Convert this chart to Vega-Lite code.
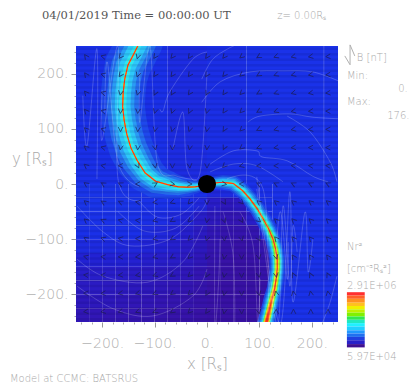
{"$schema":"https://vega.github.io/schema/vega-lite/v6.json","width":262,"height":276,"autosize":{"type":"none"},"padding":{"left":76,"top":46,"right":77,"bottom":70},"background":"white","config":{"view":{"stroke":null},"axis":{"grid":false,"domain":false}},
"datasets":{
"heat":[
{"x":-250,"x2":-75,"y":0,"y2":250,"n":3},{"x":-75,"x2":0,"y":0,"y2":250,"n":2.7},{"x":0,"x2":75,"y":0,"y2":250,"n":2.9},{"x":75,"x2":250,"y":0,"y2":250,"n":3.1},{"x":125,"x2":250,"y":-250,"y2":0,"n":3.1},
{"x":-250,"x2":-225,"y":-25,"y2":0,"n":3.2},{"x":-225,"x2":-200,"y":-25,"y2":0,"n":3.2},{"x":-200,"x2":-175,"y":-25,"y2":0,"n":3.2},{"x":-175,"x2":-150,"y":-25,"y2":0,"n":3.2},{"x":-150,"x2":-125,"y":-25,"y2":0,"n":3.2},{"x":-125,"x2":-100,"y":-25,"y2":0,"n":3.2},{"x":-100,"x2":-75,"y":-25,"y2":0,"n":3.3},{"x":-75,"x2":-50,"y":-25,"y2":0,"n":3.3},{"x":-50,"x2":-25,"y":-25,"y2":0,"n":3.2},{"x":-25,"x2":0,"y":-25,"y2":0,"n":3},{"x":0,"x2":25,"y":-25,"y2":0,"n":2.4},{"x":25,"x2":50,"y":-25,"y2":0,"n":2.6},{"x":50,"x2":75,"y":-25,"y2":0,"n":3},{"x":75,"x2":100,"y":-25,"y2":0,"n":3},{"x":100,"x2":125,"y":-25,"y2":0,"n":3},
{"x":-250,"x2":-225,"y":-50,"y2":-25,"n":3.2},{"x":-225,"x2":-200,"y":-50,"y2":-25,"n":3.2},{"x":-200,"x2":-175,"y":-50,"y2":-25,"n":3.2},{"x":-175,"x2":-150,"y":-50,"y2":-25,"n":3.2},{"x":-150,"x2":-125,"y":-50,"y2":-25,"n":3.2},{"x":-125,"x2":-100,"y":-50,"y2":-25,"n":3.1},{"x":-100,"x2":-75,"y":-50,"y2":-25,"n":3.1},{"x":-75,"x2":-50,"y":-50,"y2":-25,"n":3},{"x":-50,"x2":-25,"y":-50,"y2":-25,"n":2.8},{"x":-25,"x2":0,"y":-50,"y2":-25,"n":2.4},{"x":0,"x2":25,"y":-50,"y2":-25,"n":1.5},{"x":25,"x2":50,"y":-50,"y2":-25,"n":1},{"x":50,"x2":75,"y":-50,"y2":-25,"n":1.2},{"x":75,"x2":100,"y":-50,"y2":-25,"n":3},{"x":100,"x2":125,"y":-50,"y2":-25,"n":3.1},
{"x":-250,"x2":-225,"y":-75,"y2":-50,"n":3.1},{"x":-225,"x2":-200,"y":-75,"y2":-50,"n":3.1},{"x":-200,"x2":-175,"y":-75,"y2":-50,"n":3.1},{"x":-175,"x2":-150,"y":-75,"y2":-50,"n":3.1},{"x":-150,"x2":-125,"y":-75,"y2":-50,"n":3.1},{"x":-125,"x2":-100,"y":-75,"y2":-50,"n":2.9},{"x":-100,"x2":-75,"y":-75,"y2":-50,"n":2.8},{"x":-75,"x2":-50,"y":-75,"y2":-50,"n":2.5},{"x":-50,"x2":-25,"y":-75,"y2":-50,"n":2.1},{"x":-25,"x2":0,"y":-75,"y2":-50,"n":1.6},{"x":0,"x2":25,"y":-75,"y2":-50,"n":1},{"x":25,"x2":50,"y":-75,"y2":-50,"n":0.7},{"x":50,"x2":75,"y":-75,"y2":-50,"n":0.7},{"x":75,"x2":100,"y":-75,"y2":-50,"n":1.5},{"x":100,"x2":125,"y":-75,"y2":-50,"n":3},
{"x":-250,"x2":-225,"y":-100,"y2":-75,"n":3},{"x":-225,"x2":-200,"y":-100,"y2":-75,"n":3},{"x":-200,"x2":-175,"y":-100,"y2":-75,"n":3},{"x":-175,"x2":-150,"y":-100,"y2":-75,"n":3},{"x":-150,"x2":-125,"y":-100,"y2":-75,"n":3},{"x":-125,"x2":-100,"y":-100,"y2":-75,"n":2.6},{"x":-100,"x2":-75,"y":-100,"y2":-75,"n":2.4},{"x":-75,"x2":-50,"y":-100,"y2":-75,"n":2.1},{"x":-50,"x2":-25,"y":-100,"y2":-75,"n":1.7},{"x":-25,"x2":0,"y":-100,"y2":-75,"n":1.3},{"x":0,"x2":25,"y":-100,"y2":-75,"n":0.8},{"x":25,"x2":50,"y":-100,"y2":-75,"n":0.5},{"x":50,"x2":75,"y":-100,"y2":-75,"n":0.5},{"x":75,"x2":100,"y":-100,"y2":-75,"n":0.6},{"x":100,"x2":125,"y":-100,"y2":-75,"n":2},
{"x":-250,"x2":-225,"y":-125,"y2":-100,"n":2.6},{"x":-225,"x2":-200,"y":-125,"y2":-100,"n":2.6},{"x":-200,"x2":-175,"y":-125,"y2":-100,"n":2.6},{"x":-175,"x2":-150,"y":-125,"y2":-100,"n":2.5},{"x":-150,"x2":-125,"y":-125,"y2":-100,"n":2.4},{"x":-125,"x2":-100,"y":-125,"y2":-100,"n":2.2},{"x":-100,"x2":-75,"y":-125,"y2":-100,"n":2},{"x":-75,"x2":-50,"y":-125,"y2":-100,"n":1.8},{"x":-50,"x2":-25,"y":-125,"y2":-100,"n":1.4},{"x":-25,"x2":0,"y":-125,"y2":-100,"n":1.1},{"x":0,"x2":25,"y":-125,"y2":-100,"n":0.6},{"x":25,"x2":50,"y":-125,"y2":-100,"n":0.4},{"x":50,"x2":75,"y":-125,"y2":-100,"n":0.3},{"x":75,"x2":100,"y":-125,"y2":-100,"n":0.4},{"x":100,"x2":125,"y":-125,"y2":-100,"n":0.6},
{"x":-250,"x2":-225,"y":-150,"y2":-125,"n":2},{"x":-225,"x2":-200,"y":-150,"y2":-125,"n":2},{"x":-200,"x2":-175,"y":-150,"y2":-125,"n":2},{"x":-175,"x2":-150,"y":-150,"y2":-125,"n":2},{"x":-150,"x2":-125,"y":-150,"y2":-125,"n":1.9},{"x":-125,"x2":-100,"y":-150,"y2":-125,"n":1.7},{"x":-100,"x2":-75,"y":-150,"y2":-125,"n":1.6},{"x":-75,"x2":-50,"y":-150,"y2":-125,"n":1.5},{"x":-50,"x2":-25,"y":-150,"y2":-125,"n":1.2},{"x":-25,"x2":0,"y":-150,"y2":-125,"n":0.9},{"x":0,"x2":25,"y":-150,"y2":-125,"n":0.5},{"x":25,"x2":50,"y":-150,"y2":-125,"n":0.3},{"x":50,"x2":75,"y":-150,"y2":-125,"n":0.2},{"x":75,"x2":100,"y":-150,"y2":-125,"n":0.3},{"x":100,"x2":125,"y":-150,"y2":-125,"n":0.5},
{"x":-250,"x2":-225,"y":-175,"y2":-150,"n":1.6},{"x":-225,"x2":-200,"y":-175,"y2":-150,"n":1.6},{"x":-200,"x2":-175,"y":-175,"y2":-150,"n":1.6},{"x":-175,"x2":-150,"y":-175,"y2":-150,"n":1.5},{"x":-150,"x2":-125,"y":-175,"y2":-150,"n":1.4},{"x":-125,"x2":-100,"y":-175,"y2":-150,"n":1.3},{"x":-100,"x2":-75,"y":-175,"y2":-150,"n":1.2},{"x":-75,"x2":-50,"y":-175,"y2":-150,"n":1.1},{"x":-50,"x2":-25,"y":-175,"y2":-150,"n":0.9},{"x":-25,"x2":0,"y":-175,"y2":-150,"n":0.7},{"x":0,"x2":25,"y":-175,"y2":-150,"n":0.4},{"x":25,"x2":50,"y":-175,"y2":-150,"n":0.3},{"x":50,"x2":75,"y":-175,"y2":-150,"n":0.2},{"x":75,"x2":100,"y":-175,"y2":-150,"n":0.2},{"x":100,"x2":125,"y":-175,"y2":-150,"n":0.4},
{"x":-250,"x2":-225,"y":-200,"y2":-175,"n":1.3},{"x":-225,"x2":-200,"y":-200,"y2":-175,"n":1.3},{"x":-200,"x2":-175,"y":-200,"y2":-175,"n":1.2},{"x":-175,"x2":-150,"y":-200,"y2":-175,"n":1.2},{"x":-150,"x2":-125,"y":-200,"y2":-175,"n":1.1},{"x":-125,"x2":-100,"y":-200,"y2":-175,"n":1},{"x":-100,"x2":-75,"y":-200,"y2":-175,"n":0.9},{"x":-75,"x2":-50,"y":-200,"y2":-175,"n":0.8},{"x":-50,"x2":-25,"y":-200,"y2":-175,"n":0.7},{"x":-25,"x2":0,"y":-200,"y2":-175,"n":0.5},{"x":0,"x2":25,"y":-200,"y2":-175,"n":0.3},{"x":25,"x2":50,"y":-200,"y2":-175,"n":0.2},{"x":50,"x2":75,"y":-200,"y2":-175,"n":0.2},{"x":75,"x2":100,"y":-200,"y2":-175,"n":0.2},{"x":100,"x2":125,"y":-200,"y2":-175,"n":0.3},
{"x":-250,"x2":-225,"y":-225,"y2":-200,"n":1},{"x":-225,"x2":-200,"y":-225,"y2":-200,"n":1},{"x":-200,"x2":-175,"y":-225,"y2":-200,"n":1},{"x":-175,"x2":-150,"y":-225,"y2":-200,"n":0.9},{"x":-150,"x2":-125,"y":-225,"y2":-200,"n":0.8},{"x":-125,"x2":-100,"y":-225,"y2":-200,"n":0.8},{"x":-100,"x2":-75,"y":-225,"y2":-200,"n":0.7},{"x":-75,"x2":-50,"y":-225,"y2":-200,"n":0.6},{"x":-50,"x2":-25,"y":-225,"y2":-200,"n":0.5},{"x":-25,"x2":0,"y":-225,"y2":-200,"n":0.4},{"x":0,"x2":25,"y":-225,"y2":-200,"n":0.3},{"x":25,"x2":50,"y":-225,"y2":-200,"n":0.2},{"x":50,"x2":75,"y":-225,"y2":-200,"n":0.2},{"x":75,"x2":100,"y":-225,"y2":-200,"n":0.2},{"x":100,"x2":125,"y":-225,"y2":-200,"n":0.3},
{"x":-250,"x2":-225,"y":-250,"y2":-225,"n":0.8},{"x":-225,"x2":-200,"y":-250,"y2":-225,"n":0.8},{"x":-200,"x2":-175,"y":-250,"y2":-225,"n":0.7},{"x":-175,"x2":-150,"y":-250,"y2":-225,"n":0.7},{"x":-150,"x2":-125,"y":-250,"y2":-225,"n":0.6},{"x":-125,"x2":-100,"y":-250,"y2":-225,"n":0.6},{"x":-100,"x2":-75,"y":-250,"y2":-225,"n":0.5},{"x":-75,"x2":-50,"y":-250,"y2":-225,"n":0.4},{"x":-50,"x2":-25,"y":-250,"y2":-225,"n":0.4},{"x":-25,"x2":0,"y":-250,"y2":-225,"n":0.3},{"x":0,"x2":25,"y":-250,"y2":-225,"n":0.2},{"x":25,"x2":50,"y":-250,"y2":-225,"n":0.2},{"x":50,"x2":75,"y":-250,"y2":-225,"n":0.2},{"x":75,"x2":100,"y":-250,"y2":-225,"n":0.2},{"x":100,"x2":125,"y":-250,"y2":-225,"n":0.4}
],
"arms":[
{"arm":"N","i":0,"x":-128,"y":258,"w1":88,"w2":63,"w3":46,"w4":32,"w5":12,"w6":0,"w7":0,"w8":0,"w9":0,"w10":0},
{"arm":"N","i":1,"x":-140,"y":235,"w1":88,"w2":63,"w3":46,"w4":32,"w5":14,"w6":0,"w7":0,"w8":0,"w9":0,"w10":0},
{"arm":"N","i":2,"x":-151,"y":215,"w1":88,"w2":63,"w3":46,"w4":32,"w5":14,"w6":0,"w7":0,"w8":0,"w9":0,"w10":0},
{"arm":"N","i":3,"x":-157,"y":190,"w1":85,"w2":61,"w3":44,"w4":30,"w5":14,"w6":0,"w7":0,"w8":0,"w9":0,"w10":0},
{"arm":"N","i":4,"x":-160,"y":165,"w1":85,"w2":61,"w3":44,"w4":30,"w5":14,"w6":0,"w7":0,"w8":0,"w9":0,"w10":0},
{"arm":"N","i":5,"x":-161,"y":140,"w1":85,"w2":61,"w3":44,"w4":30,"w5":14,"w6":0,"w7":0,"w8":0,"w9":0,"w10":0},
{"arm":"N","i":6,"x":-158,"y":115,"w1":85,"w2":61,"w3":44,"w4":30,"w5":14,"w6":0,"w7":0,"w8":0,"w9":0,"w10":0},
{"arm":"N","i":7,"x":-153,"y":90,"w1":85,"w2":61,"w3":44,"w4":30,"w5":14,"w6":0,"w7":0,"w8":0,"w9":0,"w10":0},
{"arm":"N","i":8,"x":-145,"y":65,"w1":85,"w2":61,"w3":44,"w4":30,"w5":14,"w6":0,"w7":0,"w8":0,"w9":0,"w10":0},
{"arm":"N","i":9,"x":-133,"y":42,"w1":82,"w2":59,"w3":43,"w4":30,"w5":14,"w6":0,"w7":0,"w8":0,"w9":0,"w10":0},
{"arm":"N","i":10,"x":-118,"y":20,"w1":74,"w2":53,"w3":38,"w4":27,"w5":14,"w6":0,"w7":0,"w8":0,"w9":0,"w10":0},
{"arm":"N","i":11,"x":-98,"y":5,"w1":64,"w2":46,"w3":34,"w4":24,"w5":14,"w6":0,"w7":0,"w8":0,"w9":0,"w10":0},
{"arm":"N","i":12,"x":-76,"y":-1,"w1":54,"w2":39,"w3":28,"w4":20,"w5":12,"w6":0,"w7":0,"w8":0,"w9":0,"w10":0},
{"arm":"N","i":13,"x":-55,"y":-5,"w1":44,"w2":32,"w3":23,"w4":16,"w5":10,"w6":0,"w7":0,"w8":0,"w9":0,"w10":0},
{"arm":"N","i":14,"x":-38,"y":-6,"w1":34,"w2":24,"w3":18,"w4":12,"w5":8,"w6":0,"w7":0,"w8":0,"w9":0,"w10":0},
{"arm":"N","i":15,"x":-22,"y":-5,"w1":26,"w2":19,"w3":14,"w4":10,"w5":6,"w6":0,"w7":0,"w8":0,"w9":0,"w10":0},
{"arm":"N","i":16,"x":-10,"y":-3,"w1":20,"w2":15,"w3":11,"w4":8,"w5":5,"w6":0,"w7":0,"w8":0,"w9":0,"w10":0},
{"arm":"S","i":0,"x":12,"y":2,"w1":24,"w2":18,"w3":14,"w4":10,"w5":6,"w6":0,"w7":0,"w8":0,"w9":0,"w10":0},
{"arm":"S","i":1,"x":30,"y":3,"w1":28,"w2":22,"w3":16,"w4":12,"w5":8,"w6":0,"w7":0,"w8":0,"w9":0,"w10":0},
{"arm":"S","i":2,"x":50,"y":1,"w1":30,"w2":24,"w3":18,"w4":13,"w5":9,"w6":0,"w7":0,"w8":0,"w9":0,"w10":0},
{"arm":"S","i":3,"x":68,"y":-12,"w1":30,"w2":24,"w3":18,"w4":13,"w5":9,"w6":3,"w7":0,"w8":0,"w9":0,"w10":0},
{"arm":"S","i":4,"x":82,"y":-27,"w1":30,"w2":24,"w3":18,"w4":13,"w5":9,"w6":4,"w7":0,"w8":0,"w9":0,"w10":0},
{"arm":"S","i":5,"x":96,"y":-45,"w1":30,"w2":24,"w3":18,"w4":13,"w5":10,"w6":5,"w7":0,"w8":0,"w9":0,"w10":0},
{"arm":"S","i":6,"x":107,"y":-63,"w1":30,"w2":24,"w3":18,"w4":14,"w5":10,"w6":6,"w7":2,"w8":0,"w9":0,"w10":0},
{"arm":"S","i":7,"x":118,"y":-82,"w1":30,"w2":24,"w3":19,"w4":15,"w5":11,"w6":8,"w7":4,"w8":0,"w9":0,"w10":0},
{"arm":"S","i":8,"x":126,"y":-100,"w1":30,"w2":24,"w3":20,"w4":16,"w5":13,"w6":10,"w7":6,"w8":0,"w9":0,"w10":0},
{"arm":"S","i":9,"x":131,"y":-118,"w1":30,"w2":25,"w3":21,"w4":17,"w5":14,"w6":11,"w7":8,"w8":3,"w9":0,"w10":0},
{"arm":"S","i":10,"x":134,"y":-136,"w1":30,"w2":25,"w3":21,"w4":17,"w5":14,"w6":12,"w7":9,"w8":5,"w9":0,"w10":0},
{"arm":"S","i":11,"x":134,"y":-154,"w1":30,"w2":25,"w3":21,"w4":17,"w5":14,"w6":12,"w7":9,"w8":6,"w9":1,"w10":0},
{"arm":"S","i":12,"x":132,"y":-172,"w1":30,"w2":25,"w3":21,"w4":17,"w5":14,"w6":12,"w7":9,"w8":6,"w9":2,"w10":0},
{"arm":"S","i":13,"x":129,"y":-190,"w1":30,"w2":25,"w3":21,"w4":17,"w5":14,"w6":12,"w7":9,"w8":7,"w9":4,"w10":0},
{"arm":"S","i":14,"x":124,"y":-208,"w1":32,"w2":26,"w3":22,"w4":18,"w5":15,"w6":13,"w7":10,"w8":8,"w9":5,"w10":1},
{"arm":"S","i":15,"x":119,"y":-228,"w1":32,"w2":27,"w3":22,"w4":18,"w5":15,"w6":13,"w7":11,"w8":9,"w9":7,"w10":3},
{"arm":"S","i":16,"x":113,"y":-252,"w1":34,"w2":28,"w3":23,"w4":19,"w5":16,"w6":14,"w7":12,"w8":10,"w9":8,"w10":5}
],
"field":[
{"id":1,"x":-10,"y":190},{"id":1,"x":10,"y":225},{"id":1,"x":40,"y":245},{"id":1,"x":70,"y":258},
{"id":2,"x":-10,"y":148},{"id":2,"x":25,"y":185},{"id":2,"x":82,"y":203},{"id":2,"x":145,"y":205},{"id":2,"x":202,"y":203},{"id":2,"x":255,"y":185},
{"id":3,"x":78,"y":112},{"id":3,"x":101,"y":123},{"id":3,"x":158,"y":127},{"id":3,"x":202,"y":121},{"id":3,"x":255,"y":118},
{"id":4,"x":6,"y":36},{"id":4,"x":50,"y":60},{"id":4,"x":95,"y":60},{"id":4,"x":105,"y":49},{"id":4,"x":153,"y":42},{"id":4,"x":202,"y":14},{"id":4,"x":231,"y":4},
{"id":5,"x":153,"y":123},{"id":5,"x":197,"y":94},{"id":5,"x":235,"y":40},{"id":5,"x":248,"y":4},
{"id":6,"x":95,"y":13},{"id":6,"x":158,"y":-14},{"id":6,"x":187,"y":-51},{"id":6,"x":202,"y":-100},{"id":6,"x":193,"y":-159},{"id":6,"x":164,"y":-214},{"id":6,"x":139,"y":-255},
{"id":7,"x":95,"y":-9},{"id":7,"x":145,"y":-40},{"id":7,"x":164,"y":-76},{"id":7,"x":172,"y":-123},{"id":7,"x":158,"y":-185},{"id":7,"x":134,"y":-255},
{"id":8,"x":223,"y":255},{"id":8,"x":223,"y":-255},
{"id":9,"x":248,"y":-167},{"id":9,"x":235,"y":-214},{"id":9,"x":221,"y":-250},
{"id":10,"x":31,"y":-51},{"id":10,"x":50,"y":-130},{"id":10,"x":53,"y":-255},
{"id":11,"x":63,"y":-51},{"id":11,"x":88,"y":-112},{"id":11,"x":101,"y":-172},{"id":11,"x":97,"y":-255},
{"id":12,"x":15,"y":-40},{"id":12,"x":25,"y":-100},{"id":12,"x":22,"y":-180},{"id":12,"x":15,"y":-255},
{"id":13,"x":-248,"y":-40},{"id":13,"x":-198,"y":-87},{"id":13,"x":-147,"y":-112},{"id":13,"x":-71,"y":-100},{"id":13,"x":-13,"y":-51},{"id":13,"x":0,"y":-27},
{"id":14,"x":-248,"y":-136},{"id":14,"x":-198,"y":-167},{"id":14,"x":-114,"y":-178},{"id":14,"x":-46,"y":-141},{"id":14,"x":-8,"y":-76},
{"id":15,"x":-248,"y":-185},{"id":15,"x":-179,"y":-226},{"id":15,"x":-103,"y":-239},{"id":15,"x":-27,"y":-203},{"id":15,"x":0,"y":-154},
{"id":16,"x":-130,"y":-30},{"id":16,"x":-95,"y":-60},{"id":16,"x":-50,"y":-55},{"id":16,"x":-15,"y":-25},
{"id":17,"x":-170,"y":-50},{"id":17,"x":-120,"y":-85},{"id":17,"x":-60,"y":-80},{"id":17,"x":-15,"y":-40},
{"id":18,"x":-210,"y":245},{"id":18,"x":-237,"y":160},{"id":18,"x":-229,"y":69},{"id":18,"x":-210,"y":9},
{"id":19,"x":-170,"y":250},{"id":19,"x":-200,"y":170},{"id":19,"x":-200,"y":80},{"id":19,"x":-170,"y":10},{"id":19,"x":-130,"y":-30},
{"id":20,"x":0,"y":203},{"id":20,"x":-46,"y":130},{"id":20,"x":-65,"y":63},{"id":20,"x":-38,"y":27},{"id":20,"x":-13,"y":22},
{"id":21,"x":-109,"y":250},{"id":21,"x":-128,"y":203},{"id":21,"x":-128,"y":112},{"id":21,"x":-95,"y":40},{"id":21,"x":-60,"y":15},{"id":21,"x":-20,"y":8},
{"id":22,"x":-90,"y":136},{"id":22,"x":-84,"y":132},{"id":22,"x":-71,"y":167},{"id":22,"x":-27,"y":226},{"id":22,"x":0,"y":239},
{"id":23,"x":-190,"y":220},{"id":23,"x":-195,"y":130},{"id":23,"x":-170,"y":40},{"id":23,"x":-130,"y":-5},
{"id":24,"x":38,"y":9},{"id":24,"x":107,"y":-9},{"id":24,"x":139,"y":-51},{"id":24,"x":155,"y":-105},{"id":24,"x":153,"y":-172},{"id":24,"x":120,"y":-248},
{"id":25,"x":6,"y":22},{"id":25,"x":50,"y":36},{"id":25,"x":95,"y":33},{"id":25,"x":145,"y":4}
],
"stripes":[{"y":245},{"y":235},{"y":225},{"y":215},{"y":205},{"y":195},{"y":185},{"y":175},{"y":165},{"y":155},{"y":145},{"y":135},{"y":125},{"y":115},{"y":105},{"y":95},{"y":85},{"y":75},{"y":65},{"y":55},{"y":45},{"y":35},{"y":25},{"y":15},{"y":5},{"y":-5},{"y":-15},{"y":-25},{"y":-35},{"y":-45},{"y":-55},{"y":-65},{"y":-75},{"y":-85},{"y":-95},{"y":-105},{"y":-115},{"y":-125},{"y":-135},{"y":-145},{"y":-155},{"y":-165},{"y":-175},{"y":-185},{"y":-195},{"y":-205},{"y":-215},{"y":-225},{"y":-235},{"y":-245}],
"arrows":[
{"x":-231,"y":231,"a":325},{"x":-198,"y":231,"a":285},{"x":-165,"y":231,"a":220},{"x":-132,"y":231,"a":195},{"x":-99,"y":231,"a":215},{"x":-66,"y":231,"a":220},{"x":-33,"y":231,"a":215},{"x":0,"y":231,"a":215},{"x":33,"y":231,"a":220},{"x":66,"y":231,"a":230},{"x":99,"y":231,"a":240},{"x":132,"y":231,"a":250},{"x":165,"y":231,"a":255},{"x":198,"y":231,"a":260},{"x":231,"y":231,"a":265},
{"x":-231,"y":198,"a":325},{"x":-198,"y":198,"a":285},{"x":-165,"y":198,"a":215},{"x":-132,"y":198,"a":200},{"x":-99,"y":198,"a":215},{"x":-66,"y":198,"a":215},{"x":-33,"y":198,"a":215},{"x":0,"y":198,"a":210},{"x":33,"y":198,"a":220},{"x":66,"y":198,"a":230},{"x":99,"y":198,"a":240},{"x":132,"y":198,"a":250},{"x":165,"y":198,"a":255},{"x":198,"y":198,"a":260},{"x":231,"y":198,"a":265},
{"x":-231,"y":165,"a":320},{"x":-198,"y":165,"a":285},{"x":-165,"y":165,"a":190},{"x":-132,"y":165,"a":195},{"x":-99,"y":165,"a":205},{"x":-66,"y":165,"a":210},{"x":-33,"y":165,"a":215},{"x":0,"y":165,"a":205},{"x":33,"y":165,"a":215},{"x":66,"y":165,"a":225},{"x":99,"y":165,"a":240},{"x":132,"y":165,"a":250},{"x":165,"y":165,"a":255},{"x":198,"y":165,"a":260},{"x":231,"y":165,"a":265},
{"x":-231,"y":132,"a":320},{"x":-198,"y":132,"a":285},{"x":-165,"y":132,"a":185},{"x":-132,"y":132,"a":185},{"x":-99,"y":132,"a":195},{"x":-66,"y":132,"a":200},{"x":-33,"y":132,"a":205},{"x":0,"y":132,"a":195},{"x":33,"y":132,"a":215},{"x":66,"y":132,"a":225},{"x":99,"y":132,"a":240},{"x":132,"y":132,"a":250},{"x":165,"y":132,"a":260},{"x":198,"y":132,"a":265},{"x":231,"y":132,"a":270},
{"x":-231,"y":99,"a":315},{"x":-198,"y":99,"a":285},{"x":-165,"y":99,"a":180},{"x":-132,"y":99,"a":185},{"x":-99,"y":99,"a":190},{"x":-66,"y":99,"a":195},{"x":-33,"y":99,"a":200},{"x":0,"y":99,"a":190},{"x":33,"y":99,"a":210},{"x":66,"y":99,"a":225},{"x":99,"y":99,"a":245},{"x":132,"y":99,"a":255},{"x":165,"y":99,"a":260},{"x":198,"y":99,"a":265},{"x":231,"y":99,"a":270},
{"x":-231,"y":66,"a":310},{"x":-198,"y":66,"a":285},{"x":-165,"y":66,"a":190},{"x":-132,"y":66,"a":185},{"x":-99,"y":66,"a":170},{"x":-66,"y":66,"a":180},{"x":-33,"y":66,"a":190},{"x":0,"y":66,"a":185},{"x":33,"y":66,"a":205},{"x":66,"y":66,"a":230},{"x":99,"y":66,"a":250},{"x":132,"y":66,"a":260},{"x":165,"y":66,"a":265},{"x":198,"y":66,"a":270},{"x":231,"y":66,"a":270},
{"x":-231,"y":33,"a":310},{"x":-198,"y":33,"a":280},{"x":-165,"y":33,"a":270},{"x":-132,"y":33,"a":155},{"x":-99,"y":33,"a":170},{"x":-66,"y":33,"a":180},{"x":-33,"y":33,"a":175},{"x":0,"y":33,"a":180},{"x":33,"y":33,"a":225},{"x":66,"y":33,"a":255},{"x":99,"y":33,"a":265},{"x":132,"y":33,"a":270},{"x":165,"y":33,"a":275},{"x":198,"y":33,"a":275},{"x":231,"y":33,"a":275},
{"x":-231,"y":0,"a":305},{"x":-198,"y":0,"a":300},{"x":-165,"y":0,"a":295},{"x":-132,"y":0,"a":270},{"x":-99,"y":0,"a":60},{"x":-66,"y":0,"a":100},{"x":-33,"y":0,"a":90},{"x":33,"y":0,"a":100},{"x":66,"y":0,"a":270},{"x":99,"y":0,"a":295},{"x":132,"y":0,"a":295},{"x":165,"y":0,"a":295},{"x":198,"y":0,"a":295},{"x":231,"y":0,"a":295},
{"x":-231,"y":-33,"a":310},{"x":-198,"y":-33,"a":300},{"x":-165,"y":-33,"a":295},{"x":-132,"y":-33,"a":280},{"x":-99,"y":-33,"a":265},{"x":-66,"y":-33,"a":250},{"x":-33,"y":-33,"a":220},{"x":0,"y":-33,"a":180},{"x":33,"y":-33,"a":150},{"x":66,"y":-33,"a":135},{"x":99,"y":-33,"a":310},{"x":132,"y":-33,"a":310},{"x":165,"y":-33,"a":310},{"x":198,"y":-33,"a":310},{"x":231,"y":-33,"a":310},
{"x":-231,"y":-66,"a":310},{"x":-198,"y":-66,"a":295},{"x":-165,"y":-66,"a":285},{"x":-132,"y":-66,"a":275},{"x":-99,"y":-66,"a":255},{"x":-66,"y":-66,"a":240},{"x":-33,"y":-66,"a":230},{"x":0,"y":-66,"a":190},{"x":33,"y":-66,"a":160},{"x":66,"y":-66,"a":150},{"x":99,"y":-66,"a":130},{"x":132,"y":-66,"a":315},{"x":165,"y":-66,"a":315},{"x":198,"y":-66,"a":315},{"x":231,"y":-66,"a":315},
{"x":-231,"y":-99,"a":305},{"x":-198,"y":-99,"a":290},{"x":-165,"y":-99,"a":280},{"x":-132,"y":-99,"a":270},{"x":-99,"y":-99,"a":255},{"x":-66,"y":-99,"a":240},{"x":-33,"y":-99,"a":225},{"x":0,"y":-99,"a":195},{"x":33,"y":-99,"a":175},{"x":66,"y":-99,"a":165},{"x":99,"y":-99,"a":150},{"x":132,"y":-99,"a":320},{"x":165,"y":-99,"a":320},{"x":198,"y":-99,"a":320},{"x":231,"y":-99,"a":320},
{"x":-231,"y":-132,"a":285},{"x":-198,"y":-132,"a":275},{"x":-165,"y":-132,"a":270},{"x":-132,"y":-132,"a":265},{"x":-99,"y":-132,"a":255},{"x":-66,"y":-132,"a":240},{"x":-33,"y":-132,"a":225},{"x":0,"y":-132,"a":205},{"x":33,"y":-132,"a":190},{"x":66,"y":-132,"a":180},{"x":99,"y":-132,"a":170},{"x":132,"y":-132,"a":165},{"x":165,"y":-132,"a":325},{"x":198,"y":-132,"a":325},{"x":231,"y":-132,"a":325},
{"x":-231,"y":-165,"a":275},{"x":-198,"y":-165,"a":270},{"x":-165,"y":-165,"a":265},{"x":-132,"y":-165,"a":260},{"x":-99,"y":-165,"a":250},{"x":-66,"y":-165,"a":240},{"x":-33,"y":-165,"a":225},{"x":0,"y":-165,"a":205},{"x":33,"y":-165,"a":190},{"x":66,"y":-165,"a":180},{"x":99,"y":-165,"a":170},{"x":132,"y":-165,"a":170},{"x":165,"y":-165,"a":335},{"x":198,"y":-165,"a":335},{"x":231,"y":-165,"a":335},
{"x":-231,"y":-198,"a":270},{"x":-198,"y":-198,"a":265},{"x":-165,"y":-198,"a":260},{"x":-132,"y":-198,"a":255},{"x":-99,"y":-198,"a":245},{"x":-66,"y":-198,"a":235},{"x":-33,"y":-198,"a":225},{"x":0,"y":-198,"a":210},{"x":33,"y":-198,"a":190},{"x":66,"y":-198,"a":180},{"x":99,"y":-198,"a":170},{"x":132,"y":-198,"a":350},{"x":165,"y":-198,"a":350},{"x":198,"y":-198,"a":350},{"x":231,"y":-198,"a":350},
{"x":-231,"y":-231,"a":265},{"x":-198,"y":-231,"a":260},{"x":-165,"y":-231,"a":255},{"x":-132,"y":-231,"a":250},{"x":-99,"y":-231,"a":245},{"x":-66,"y":-231,"a":235},{"x":-33,"y":-231,"a":225},{"x":0,"y":-231,"a":215},{"x":33,"y":-231,"a":190},{"x":66,"y":-231,"a":180},{"x":99,"y":-231,"a":170},{"x":132,"y":-231,"a":0},{"x":165,"y":-231,"a":0},{"x":198,"y":-231,"a":0},{"x":231,"y":-231,"a":0}
],
"bar":[
{"n":15,"x":267,"x2":301,"y":-196,"y2":-202},{"n":14,"x":267,"x2":301,"y":-202,"y2":-208},{"n":13,"x":267,"x2":301,"y":-208,"y2":-215},{"n":12,"x":267,"x2":301,"y":-215,"y2":-221},{"n":11,"x":267,"x2":301,"y":-221,"y2":-227},{"n":10,"x":267,"x2":301,"y":-227,"y2":-233},{"n":9,"x":267,"x2":301,"y":-233,"y2":-240},{"n":8,"x":267,"x2":301,"y":-240,"y2":-246},{"n":7,"x":267,"x2":301,"y":-246,"y2":-252},{"n":6,"x":267,"x2":301,"y":-252,"y2":-258},{"n":5,"x":267,"x2":301,"y":-258,"y2":-265},{"n":4,"x":267,"x2":301,"y":-265,"y2":-271},{"n":3,"x":267,"x2":301,"y":-271,"y2":-277},{"n":2,"x":267,"x2":301,"y":-277,"y2":-283},{"n":1,"x":267,"x2":301,"y":-283,"y2":-290},{"n":0,"x":267,"x2":301,"y":-290,"y2":-296}
],
"vec":[{"x":273,"y":216},{"x":273,"y":252},{"x":263,"y":232},{"x":273,"y":252},{"x":282,"y":232}],
"small":[{"x":286,"y":223,"t":"B [nT]"},{"x":267,"y":190,"t":"Min:"},{"x":365,"y":167,"t":"0."},{"x":267,"y":143,"t":"Max:"},{"x":344,"y":118,"t":"176."},{"x":267,"y":-120,"t":"Nr²"},{"x":267,"y":-159,"t":"[cm⁻³Rₛ²]"},{"x":267,"y":-190,"t":"2.91E+06"},{"x":267,"y":-319,"t":"5.97E+04"},{"x":-376,"y":-359,"t":"Model at CCMC: BATSRUS"},{"x":134,"y":299,"t":"z= 0.00Rₛ"}],
"head":[{"x":-315,"y":299,"t":"04/01/2019 Time = 00:00:00 UT"}],
"sun":[{"x":0,"y":0}]
},
"resolve":{"axis":{"x":"independent","y":"independent"},"scale":{"color":"independent"}},
"layer":[
{"data":{"name":"heat"},"mark":{"type":"rect","clip":true},"encoding":{"x":{"field":"x","type":"quantitative","axis":null,"scale":{"domain":[-250,250],"nice":false,"zero":false}},"x2":{"field":"x2"},"y":{"field":"y","type":"quantitative","axis":null,"scale":{"domain":[-250,250],"nice":false,"zero":false}},"y2":{"field":"y2"},"color":{"field":"n","type":"quantitative","legend":null,"scale":{"domain":[0,1,2,3,4],"range":["#3a109e","#2d18bc","#2222d4","#1a30e8","#1c46ee"]}}}},
{"data":{"name":"arms"},"layer":[
{"mark":{"type":"trail","clip":true,"color":"#1f48ec"},"encoding":{"size":{"field":"w1","type":"quantitative"}}},
{"mark":{"type":"trail","clip":true,"color":"#2670f0"},"encoding":{"size":{"field":"w2","type":"quantitative"}}},
{"mark":{"type":"trail","clip":true,"color":"#2a9cf5"},"encoding":{"size":{"field":"w3","type":"quantitative"}}},
{"mark":{"type":"trail","clip":true,"color":"#2ec8fa"},"encoding":{"size":{"field":"w4","type":"quantitative"}}},
{"mark":{"type":"trail","clip":true,"color":"#30e8f0"},"encoding":{"size":{"field":"w5","type":"quantitative"}}},
{"mark":{"type":"trail","clip":true,"color":"#40f090"},"encoding":{"size":{"field":"w6","type":"quantitative"}}},
{"mark":{"type":"trail","clip":true,"color":"#a0f020"},"encoding":{"size":{"field":"w7","type":"quantitative"}}},
{"mark":{"type":"trail","clip":true,"color":"#f0f020"},"encoding":{"size":{"field":"w8","type":"quantitative"}}},
{"mark":{"type":"trail","clip":true,"color":"#ff9020"},"encoding":{"size":{"field":"w9","type":"quantitative"}}},
{"mark":{"type":"trail","clip":true,"color":"#ff3020"},"encoding":{"size":{"field":"w10","type":"quantitative"}}}
],"encoding":{"x":{"field":"x","type":"quantitative","axis":null,"scale":{"domain":[-250,250],"nice":false,"zero":false}},"y":{"field":"y","type":"quantitative","axis":null,"scale":{"domain":[-250,250],"nice":false,"zero":false}},"detail":{"field":"arm"},"order":{"field":"i"},"size":{"legend":null,"scale":{"type":"linear","domain":[0,100],"range":[0,52.4]}}}},
{"data":{"name":"field"},"mark":{"type":"line","clip":true,"color":"#ffffff","opacity":0.2,"strokeWidth":1,"interpolate":"cardinal"},"encoding":{"x":{"field":"x","type":"quantitative","axis":null,"scale":{"domain":[-250,250],"nice":false,"zero":false}},"y":{"field":"y","type":"quantitative","axis":null,"scale":{"domain":[-250,250],"nice":false,"zero":false}},"detail":{"field":"id"},"order":null}},
{"data":{"name":"stripes"},"mark":{"type":"rule","color":"#000030","opacity":0.09,"strokeWidth":2.5},"encoding":{"y":{"field":"y","type":"quantitative","axis":null,"scale":{"domain":[-250,250],"nice":false,"zero":false}}}},
{"data":{"name":"arrows"},"mark":{"type":"point","shape":"M-1,1L0,-1L1,1","filled":false,"stroke":"#1c1c50","strokeWidth":0.9,"opacity":0.75,"size":22},"encoding":{"x":{"field":"x","type":"quantitative","scale":{"domain":[-250,250],"nice":false,"zero":false},"axis":{"orient":"bottom","values":[-240,-220,-180,-160,-140,-120,-80,-60,-40,-20,20,40,60,80,120,140,160,180,220,240],"labels":false,"title":null,"tickSize":2,"tickColor":"#aaaaaa"}},"y":{"field":"y","type":"quantitative","scale":{"domain":[-250,250],"nice":false,"zero":false},"axis":{"orient":"left","values":[-240,-220,-180,-160,-140,-120,-80,-60,-40,-20,20,40,60,80,120,140,160,180,220,240],"labels":false,"title":null,"tickSize":2,"tickColor":"#aaaaaa"}},"angle":{"field":"a","type":"quantitative","scale":null}}},
{"data":{"name":"sun"},"mark":{"type":"point","shape":"circle","filled":true,"color":"#000000","opacity":1,"size":330},"encoding":{"x":{"field":"x","type":"quantitative","scale":{"domain":[-250,250],"nice":false,"zero":false},"axis":{"orient":"bottom","values":[-200,-100,0,100,200],"tickSize":5,"tickColor":"#999999","labelExpr":"(datum.value<0?'−':'')+abs(datum.value)+'.'","labelFont":"DejaVu Sans","labelFontSize":14,"labelColor":"#b0b0b0","labelPadding":9,"labelFontWeight":200,"title":"x [Rₛ]","titleFont":"DejaVu Sans","titleFontSize":15,"titleFontWeight":200,"titleColor":"#a8a8a8","titlePadding":6}},"y":{"field":"y","type":"quantitative","scale":{"domain":[-250,250],"nice":false,"zero":false},"axis":{"orient":"left","values":[-200,-100,0,100,200],"tickSize":5,"tickColor":"#999999","labelExpr":"(datum.value<0?'−':'')+abs(datum.value)+'.'","labelFont":"DejaVu Sans","labelFontSize":14,"labelColor":"#b0b0b0","labelPadding":3,"labelFontWeight":200,"title":"y [Rₛ]","titleFont":"DejaVu Sans","titleFontSize":15,"titleFontWeight":200,"titleColor":"#a8a8a8","titleAngle":0,"titleAlign":"center","titleBaseline":"middle","titleX":-44,"titleY":112}}}},
{"data":{"name":"bar"},"mark":{"type":"rect","clip":false},"encoding":{"x":{"field":"x","type":"quantitative","axis":null,"scale":{"domain":[-250,250],"nice":false,"zero":false}},"x2":{"field":"x2"},"y":{"field":"y","type":"quantitative","axis":null,"scale":{"domain":[-250,250],"nice":false,"zero":false}},"y2":{"field":"y2"},"color":{"field":"n","type":"quantitative","legend":null,"scale":{"domain":[0,1,2,3,4,5,6,7,8,9,10,11,12,13,14,15],"range":["#401090","#2820c8","#2040e0","#2070f0","#2098ff","#20d0ff","#20f0ff","#20e8c0","#30e850","#80f000","#c0f000","#f0f000","#ffc020","#ff9020","#ff6028","#ff3030"]}}}},
{"data":{"name":"vec"},"mark":{"type":"line","clip":false,"color":"#b0b0b0","strokeWidth":1},"encoding":{"x":{"field":"x","type":"quantitative","axis":null,"scale":{"domain":[-250,250],"nice":false,"zero":false}},"y":{"field":"y","type":"quantitative","axis":null,"scale":{"domain":[-250,250],"nice":false,"zero":false}},"order":null}},
{"data":{"name":"small"},"mark":{"type":"text","clip":false,"align":"left","baseline":"alphabetic","font":"DejaVu Sans","fontWeight":200,"fontSize":10,"color":"#a8a8a8"},"encoding":{"x":{"field":"x","type":"quantitative","axis":null,"scale":{"domain":[-250,250],"nice":false,"zero":false}},"y":{"field":"y","type":"quantitative","axis":null,"scale":{"domain":[-250,250],"nice":false,"zero":false}},"text":{"field":"t"}}},
{"data":{"name":"head"},"mark":{"type":"text","clip":false,"align":"left","baseline":"alphabetic","font":"DejaVu Serif","fontSize":11.5,"color":"#555555"},"encoding":{"x":{"field":"x","type":"quantitative","axis":null,"scale":{"domain":[-250,250],"nice":false,"zero":false}},"y":{"field":"y","type":"quantitative","axis":null,"scale":{"domain":[-250,250],"nice":false,"zero":false}},"text":{"field":"t"}}}
]}
